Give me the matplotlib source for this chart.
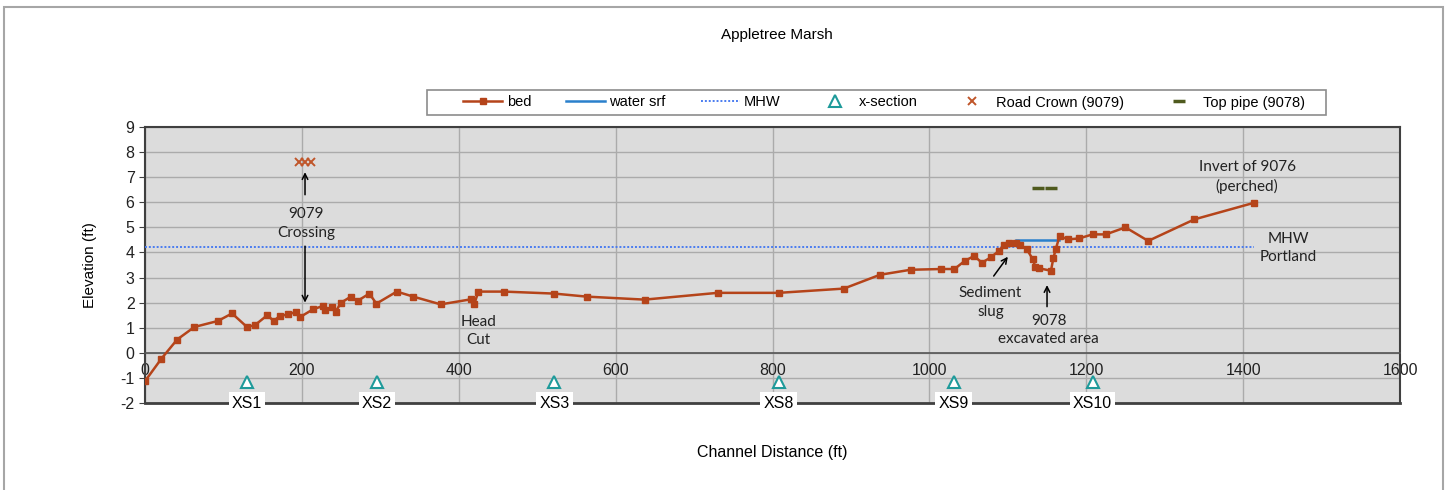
import matplotlib
matplotlib.use("Agg")
import matplotlib.pyplot as plt
from matplotlib.patches import Rectangle

plt.rcParams["axes.unicode_minus"] = False

# bed profile (channel distance ft, elevation ft)
bed_x = [0, 21, 41, 63, 93, 111, 130, 140, 156, 164,
         172, 182, 193, 198, 214, 227, 230, 238, 243, 250,
         262, 271, 286, 295, 321, 342, 377, 415, 420, 425,
         458, 522, 563, 637, 730, 808, 891, 937, 976, 1015,
         1032, 1045, 1057, 1067, 1078, 1089, 1095, 1101, 1110, 1116,
         1124, 1132, 1135, 1140, 1155, 1158, 1161, 1166, 1177, 1191,
         1208, 1225, 1250, 1279, 1338, 1414]
bed_y = [-1.13, -0.23, 0.53, 1.03, 1.27, 1.57, 1.03, 1.1, 1.5, 1.27,
         1.47, 1.53, 1.63, 1.43, 1.73, 1.87, 1.69, 1.83, 1.64, 2.0,
         2.23, 2.07, 2.36, 1.96, 2.44, 2.24, 1.93, 2.13, 1.96, 2.44,
         2.44, 2.36, 2.24, 2.12, 2.39, 2.39, 2.56, 3.11, 3.31, 3.34,
         3.34, 3.66, 3.86, 3.59, 3.80, 4.07, 4.30, 4.36, 4.39, 4.30,
         4.14, 3.72, 3.43, 3.37, 3.27, 3.76, 4.12, 4.65, 4.52, 4.56,
         4.72, 4.72, 5.0, 4.46, 5.32, 5.98]

water_x = [1110, 1165]
water_y = [4.5, 4.5]

mhw_x = [0, 1414]
mhw_y = [4.2, 4.2]

xs_x = [130, 296, 522, 808, 1031, 1208]
xs_y = [-1.15, -1.15, -1.15, -1.15, -1.15, -1.15]
xs_names = ["XS1", "XS2", "XS3", "XS8", "XS9", "XS10"]

road_x = [196, 204, 212]
road_y = [7.6, 7.6, 7.6]

pipe_x = [1139, 1155]
pipe_y = [6.55, 6.55]

x_ticks = [0, 200, 400, 600, 800, 1000, 1200, 1400, 1600]
y_ticks = [-2, -1, 0, 1, 2, 3, 4, 5, 6, 7, 8, 9]

W, H = 1448, 490
fig = plt.figure(figsize=(W / 100, H / 100), dpi=100)
ax = fig.add_axes([145 / W, 1 - 403 / H, 1255 / W, 276 / H])
ax.set_facecolor("#DCDCDC")

bed_col = "#B5441A"
ax.plot(bed_x, bed_y, color=bed_col, lw=1.8, marker="s", ms=5, label="bed", zorder=4)
ax.plot(water_x, water_y, color="#2A80CC", lw=1.8, label="water srf", zorder=3)
ax.plot(mhw_x, mhw_y, color="#4A7CF0", lw=1.4, ls=(0, (1, 1)), label="MHW", zorder=3)
ax.plot(xs_x, xs_y, ls="none", marker="^", ms=8.5, mfc="white", mec="#1E9A9A", mew=1.5,
        label="x-section", zorder=4)
ax.plot(road_x, road_y, ls="none", marker="x", ms=6, mec="#C0562A", mew=1.4,
        label="Road Crown (9079)", zorder=4)
ax.plot(pipe_x, pipe_y, ls="none", marker="_", ms=8, mec="#4F5A1E", mew=2.5,
        label="Top pipe (9078)", zorder=4)

ax.set_xlim(0, 1600)
ax.set_ylim(-2, 9)
ax.set_xticks(x_ticks)
ax.set_yticks(y_ticks)
ax.grid(True, color="#ABABAB", lw=1)
ax.set_axisbelow(True)

dark = "#404040"
for s in ["top", "right", "left"]:
    ax.spines[s].set_color(dark)
    ax.spines[s].set_linewidth(1.5)
ax.spines["bottom"].set_position(("data", 0))
ax.spines["bottom"].set_color("#555555")
ax.spines["bottom"].set_linewidth(1.2)
ax.axhline(-2, color=dark, lw=2, clip_on=False, zorder=2)

ax.tick_params(axis="x", length=0, pad=7, labelsize=11.5, labelcolor="#222222")
ax.tick_params(axis="y", direction="out", length=4, color=dark, labelsize=11.5,
               labelcolor="#222222")
for lab in ax.get_xticklabels() + ax.get_yticklabels():
    lab.set_family("Liberation Sans")

ax.set_ylabel("Elevation (ft)", fontsize=11, family="Liberation Sans")
ax.yaxis.set_label_coords(-0.038, 0.5)
fig.text(772 / W, 1 - 452 / H, "Channel Distance (ft)", ha="center", va="center",
         fontsize=11.5, family="Liberation Sans")
fig.text(777 / W, 1 - 35 / H, "Appletree Marsh", ha="center", va="center",
         fontsize=11, family="Liberation Sans")

for x, name in zip(xs_x, xs_names):
    ax.text(x, -2, name, ha="center", va="center", fontsize=11.5, family="Liberation Sans",
            clip_on=False, zorder=6,
            bbox=dict(boxstyle="square,pad=0.2", fc="white", ec="none"))

# annotations
note = dict(fontsize=11, family="Lato", color="#222222", ha="center", va="center",
            linespacing=1.4)
arr = dict(arrowstyle="->", color="black", lw=1.1, shrinkA=0, shrinkB=0)
ax.text(205, 5.16, "9079\nCrossing", **note)
ax.annotate("", xy=(204, 7.2), xytext=(204, 6.3), arrowprops=arr)
ax.annotate("", xy=(204, 2.0), xytext=(204, 4.25), arrowprops=arr)
ax.text(425, 0.86, "Head\nCut", **note)
ax.text(1078, 2.0, "Sediment\nslug", **note)
ax.annotate("", xy=(1100, 3.83), xytext=(1082, 3.06), arrowprops=arr)
ax.text(1152, 0.9, "9078\nexcavated area", **note)
ax.annotate("", xy=(1150, 2.7), xytext=(1150, 1.84), arrowprops=arr)
ax.text(1405, 7.02, "Invert of 9076\n(perched)", **note)
ax.text(1458, 4.17, "MHW\nPortland", **note)

# legend: contents centred, box drawn separately
leg = fig.legend(loc="center", bbox_to_anchor=(884 / W, 1 - 102.5 / H),
                 ncol=6, numpoints=1, frameon=False, handlelength=2.67,
                 handletextpad=0.3, columnspacing=2.4, borderpad=0,
                 prop={"family": "Liberation Sans", "size": 10.5})
fig.patches.append(Rectangle((427 / W, 1 - 115 / H), 899 / W, 25 / H,
                             transform=fig.transFigure, fill=False, ec="#8C8C8C", lw=1.2))

fig.patches.append(Rectangle((4 / W, -0.02), 1439 / W, 1.02 - 7 / H,
                             transform=fig.transFigure, fill=False, ec="#A6A6A6", lw=1.5))

fig.savefig("out.png", dpi=100)
